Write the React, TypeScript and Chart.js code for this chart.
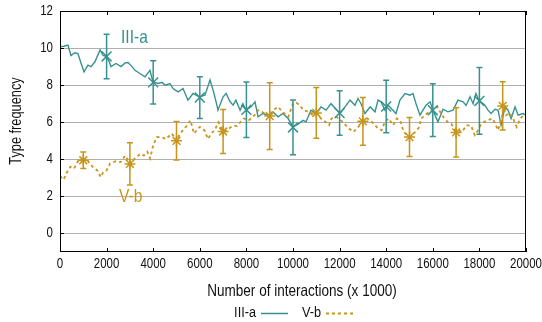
import React, { useEffect, useRef } from "react";
import { Chart, registerables } from "chart.js";

Chart.register(...registerables);

const FONT = '"Liberation Sans", Arial, sans-serif';
const NARROW = 0.82;
const TEAL = "#37928f";
const GOLD = "#c8951c";

const X_TICKS = [0, 2000, 4000, 6000, 8000, 10000, 12000, 14000, 16000, 18000, 20000];
const Y_TICKS = [0, 2, 4, 6, 8, 10, 12];

const IIIA_X = [0,170,340,470,640,770,900,1030,1200,1330,1500,1720,1850,1970,2100,2190,2400,2620,2790,2920,3090,3220,3430,3650,3860,3990,4210,4380,4510,4720,4850,5070,5280,5490,5710,5970,6220,6440,6570,6700,6780,7000,7130,7300,7430,7550,7730,7850,7980,8200,8370,8500,8710,8930,9140,9360,9570,9790,10000,10220,10430,10560,10770,10990,11200,11420,11630,11850,12020,12230,12450,12660,12790,12920,13090,13310,13520,13650,13780,13950,14080,14290,14420,14590,14810,15020,15150,15280,15450,15580,15710,15880,16010,16220,16440,16650,16870,17080,17300,17430,17600,17730,17850,17980,18240,18370,18500,18670,18800,18930,19100,19230,19360,19530,19660,19870,20000];
const IIIA_Y = [10.07,10.1,10.16,9.6,9.75,9.7,9.2,8.72,9.08,9.0,9.26,9.9,9.6,9.55,9.3,9.0,9.17,9.0,9.2,9.22,9.0,8.8,8.63,8.45,8.8,8.18,8.09,8.15,8.0,8.09,7.82,7.64,7.82,7.19,7.55,7.37,7.46,8.27,7.73,7.1,6.65,7.37,7.55,7.1,6.92,7.19,6.65,7.0,6.65,6.83,7.1,6.29,6.47,6.38,6.56,6.29,6.47,6.2,5.75,5.9,6.1,6.02,6.65,6.47,6.83,6.65,7.0,6.7,6.47,6.83,7.19,6.92,7.28,7.0,6.47,6.83,6.56,7.19,7.1,6.65,6.92,6.65,6.47,7.19,7.55,7.46,7.55,7.0,6.38,6.65,6.92,7.1,6.65,6.02,6.7,6.56,6.65,7.19,7.1,6.9,7.37,7.0,7.55,7.19,6.92,6.65,6.47,6.7,6.65,5.84,6.83,6.65,6.2,6.83,6.38,6.47,6.38];

const VB_X = [0,150,300,450,600,800,1000,1200,1400,1600,1750,1850,2000,2150,2400,2600,2800,2950,3050,3200,3450,3600,3750,3870,4000,4150,4350,4550,4800,5000,5150,5350,5600,5750,6000,6200,6350,6500,6650,6800,7000,7200,7400,7600,7750,7900,8100,8350,8500,8800,9000,9150,9350,9550,9800,10000,10150,10300,10450,10650,10850,11000,11200,11400,11550,11650,11850,12100,12400,12600,12800,13000,13200,13400,13650,13800,13950,14100,14300,14450,14600,14750,14900,15000,15250,15400,15500,15750,15950,16200,16350,16500,16650,16800,17000,17100,17250,17450,17650,17800,17900,18050,18200,18350,18550,18650,18800,18950,19050,19150,19300,19450,19600,19750,19900,20000];
const VB_Y = [3.1,2.9,3.3,3.6,3.5,3.95,3.9,3.9,3.6,3.4,3.04,3.3,3.4,3.77,3.9,3.85,4.2,3.9,3.75,4.04,4.3,4.2,4.4,4.05,4.76,5.2,5.2,5.1,5.39,5.0,5.39,5.66,6.1,5.39,5.75,5.57,5.1,5.4,5.6,6.0,5.5,5.6,5.8,5.8,6.02,6.2,6.1,6.38,6.65,6.47,6.3,6.65,6.83,6.56,6.3,7.0,7.05,6.9,6.65,6.56,6.38,6.47,6.2,6.02,5.84,6.2,6.3,6.05,5.66,5.48,5.75,6.05,6.2,6.0,5.66,5.57,6.02,6.2,5.84,6.2,6.1,5.48,5.3,5.2,5.48,5.7,6.2,6.47,6.65,6.83,6.47,6.2,6.0,5.9,5.5,5.57,5.48,5.84,5.8,5.3,5.48,5.84,6.02,6.1,6.2,6.0,5.57,6.2,6.8,6.38,6.5,6.2,5.75,6.2,6.38,6.3];

const IIIA_ERR_X = [2000, 4000, 6000, 8000, 10000, 12000, 14000, 16000, 18000];
const IIIA_ERR_MEAN = [9.55, 8.15, 7.33, 6.67, 5.72, 6.5, 6.85, 6.65, 7.15];
const IIIA_ERR = [1.2, 1.16, 1.13, 1.5, 1.48, 1.2, 1.42, 1.42, 1.8];

const VB_ERR_X = [1000, 3000, 5000, 7000, 9000, 11000, 13000, 15000, 17000, 19000];
const VB_ERR_MEAN = [3.95, 3.75, 5.0, 5.5, 6.33, 6.5, 6.05, 5.2, 5.45, 6.88];
const VB_ERR = [0.45, 1.14, 1.04, 1.19, 1.8, 1.37, 1.29, 1.05, 1.33, 1.3];

const toPts = (xs: number[], ys: number[]) => xs.map((x, i) => ({ x, y: ys[i] }));

function txt(ctx: any, s: string, x: number, y: number, size: number, align: string, color: string, rot = 0) {
  ctx.save();
  ctx.translate(x, y);
  if (rot) ctx.rotate(rot);
  ctx.scale(NARROW, 1);
  ctx.font = `${size}px ${FONT}`;
  ctx.fillStyle = color;
  ctx.textAlign = align;
  ctx.textBaseline = "middle";
  ctx.fillText(s, 0, 0);
  ctx.restore();
}

const annotPlugin = {
  id: "annot",
  afterDatasetsDraw(chart: any) {
    const ctx = chart.ctx;
    const xs = chart.scales.x;
    const ys = chart.scales.y;
    const drawErr = (ex: number[], em: number[], ee: number[], color: string) => {
      ctx.save();
      ctx.strokeStyle = color;
      ctx.lineWidth = 1.5;
      ex.forEach((xv, i) => {
        const px = xs.getPixelForValue(xv);
        const y1 = ys.getPixelForValue(em[i] - ee[i]);
        const y2 = ys.getPixelForValue(em[i] + ee[i]);
        ctx.beginPath();
        ctx.moveTo(px, y1);
        ctx.lineTo(px, y2);
        ctx.moveTo(px - 3, y1);
        ctx.lineTo(px + 3, y1);
        ctx.moveTo(px - 3, y2);
        ctx.lineTo(px + 3, y2);
        ctx.stroke();
      });
      ctx.restore();
    };
    drawErr(IIIA_ERR_X, IIIA_ERR_MEAN, IIIA_ERR, TEAL);
    drawErr(VB_ERR_X, VB_ERR_MEAN, VB_ERR, GOLD);
  },
  afterDraw(chart: any) {
    const ctx = chart.ctx;
    const a = chart.chartArea;
    const xs = chart.scales.x;
    const ys = chart.scales.y;
    ctx.save();
    ctx.strokeStyle = "#000";
    ctx.lineWidth = 1;
    ctx.strokeRect(a.left + 0.5, a.top + 0.5, a.right - a.left - 1, a.bottom - a.top - 1);
    ctx.beginPath();
    X_TICKS.forEach((v) => {
      const px = Math.round(xs.getPixelForValue(v)) + 0.5;
      ctx.moveTo(px, a.bottom);
      ctx.lineTo(px, a.bottom - 4);
      ctx.moveTo(px, a.top);
      ctx.lineTo(px, a.top + 4);
    });
    Y_TICKS.forEach((v) => {
      const py = Math.round(ys.getPixelForValue(v)) + 0.5;
      ctx.moveTo(a.left, py);
      ctx.lineTo(a.left + 4, py);
    });
    ctx.stroke();
    ctx.restore();

    // tick labels
    X_TICKS.forEach((v) => {
      txt(ctx, String(v), xs.getPixelForValue(v), 264, 14, "center", "#111");
    });
    Y_TICKS.forEach((v) => {
      txt(ctx, String(v), 53, ys.getPixelForValue(v), 14, "right", "#111");
    });

    // in-plot labels
    txt(ctx, "III-a", 121, 38, 19, "left", TEAL);
    txt(ctx, "V-b", 119, 197, 19, "left", GOLD);

    // axis titles
    txt(ctx, "Number of interactions (x 1000)", 302, 291, 16.5, "center", "#111");
    txt(ctx, "Type frequency", 17, 121, 15.6, "center", "#111", -Math.PI / 2);

    // legend
    txt(ctx, "III-a", 256, 313, 15.5, "right", "#111");
    txt(ctx, "V-b", 321, 313, 15.5, "right", "#111");
    ctx.save();
    ctx.lineWidth = 1.5;
    ctx.strokeStyle = TEAL;
    ctx.beginPath();
    ctx.moveTo(261, 313.5);
    ctx.lineTo(288, 313.5);
    ctx.stroke();
    ctx.strokeStyle = GOLD;
    ctx.lineWidth = 1.8;
    ctx.setLineDash([3, 3]);
    ctx.beginPath();
    ctx.moveTo(326, 313.5);
    ctx.lineTo(353, 313.5);
    ctx.stroke();
    ctx.restore();
  },
};

export default function App() {
  const ref = useRef<HTMLCanvasElement | null>(null);
  useEffect(() => {
    if (!ref.current) return;
    const chart = new Chart(ref.current, {
      type: "line",
      data: {
        datasets: [
          {
            label: "III-a markers",
            data: toPts(IIIA_ERR_X, IIIA_ERR_MEAN) as any,
            showLine: false,
            pointStyle: "crossRot",
            pointRadius: 7,
            pointBorderColor: TEAL,
            pointBorderWidth: 1.5,
            borderColor: TEAL,
            backgroundColor: "transparent",
            order: 1,
          },
          {
            label: "V-b markers",
            data: toPts(VB_ERR_X, VB_ERR_MEAN) as any,
            showLine: false,
            pointStyle: "star",
            pointRadius: 5.5,
            pointBorderColor: GOLD,
            pointBorderWidth: 1.5,
            borderColor: GOLD,
            backgroundColor: "transparent",
            order: 2,
          },
          {
            label: "V-b",
            data: toPts(VB_X, VB_Y) as any,
            borderColor: GOLD,
            borderWidth: 1.8,
            borderDash: [3, 3],
            pointRadius: 0,
            tension: 0,
            fill: false,
            order: 3,
          },
          {
            label: "III-a",
            data: toPts(IIIA_X, IIIA_Y) as any,
            borderColor: TEAL,
            borderWidth: 1.4,
            pointRadius: 0,
            tension: 0,
            fill: false,
            order: 4,
          },
        ],
      },
      options: {
        responsive: false,
        animation: false,
        layout: { padding: { top: 11, right: 16, left: 0, bottom: 0 } },
        plugins: { legend: { display: false }, tooltip: { enabled: false } },
        scales: {
          x: {
            type: "linear",
            min: 0,
            max: 20000,
            afterBuildTicks: (s: any) => {
              s.ticks = X_TICKS.map((v) => ({ value: v }));
            },
            afterFit: (s: any) => {
              s.height = 70;
              s.paddingLeft = 0;
              s.paddingRight = 0;
            },
            grid: { display: false, drawTicks: false },
            border: { display: false },
            ticks: { display: false },
          },
          y: {
            type: "linear",
            min: -1,
            max: 12,
            afterBuildTicks: (s: any) => {
              s.ticks = Y_TICKS.map((v) => ({ value: v }));
            },
            afterFit: (s: any) => {
              s.width = 60;
              s.paddingTop = 0;
              s.paddingBottom = 0;
            },
            grid: { color: "#b0b0b0", lineWidth: 1, drawTicks: false },
            border: { display: false },
            ticks: { display: false },
          },
        },
      },
      plugins: [annotPlugin],
    });
    return () => chart.destroy();
  }, []);
  return (
    <div style={{ position: "absolute", left: 0, top: 0, width: 542, height: 322 }}>
      <canvas ref={ref} width={542} height={322} />
    </div>
  );
}
